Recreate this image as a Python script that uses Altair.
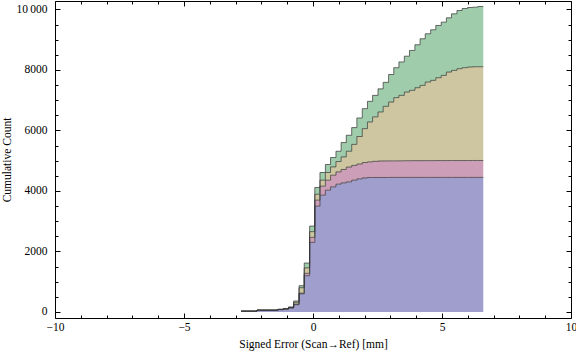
import altair as alt
import pandas as pd

# left edges of the histogram bins (last value = right edge of the final bin)
bin_edges = [-2.79, -2.58, -2.38, -2.17, -1.97, -1.77, -1.56, -1.36, -1.15, -0.95,
             -0.75, -0.54, -0.34, -0.13, 0.07, 0.27, 0.48, 0.68, 0.89, 1.09,
             1.29, 1.50, 1.70, 1.91, 2.11, 2.31, 2.52, 2.72, 2.93, 3.13,
             3.33, 3.54, 3.74, 3.95, 4.15, 4.35, 4.56, 4.76, 4.97, 5.17,
             5.37, 5.58, 5.78, 5.99, 6.19, 6.39, 6.60]

series_names = ["Set 1", "Set 2", "Set 3", "Set 4"]
series_colors = ["#9f9ecc", "#cc9eb7", "#cdc6a0", "#9fccaa"]

# cumulative counts per series, one value per bin
cum_1 = [25, 25, 25, 55, 55, 55, 55, 75, 90, 130, 240, 600, 1198, 2300,
         3498, 3861, 4026, 4136, 4224, 4268, 4301, 4356, 4400, 4430, 4445, 4445, 4445, 4445,
         4447, 4447, 4447, 4447, 4448, 4448, 4448, 4448, 4448, 4448, 4448, 4448, 4448, 4448,
         4448, 4448, 4448, 4448]
cum_2 = [2, 2, 2, 3, 3, 3, 3, 5, 8, 10, 20, 20, 79, 165,
         198, 297, 330, 385, 407, 442, 489, 489, 490, 510, 517, 535, 545, 547,
         548, 548, 550, 553, 553, 554, 554, 555, 555, 557, 557, 557, 558, 558,
         558, 559, 559, 559]
cum_3 = [2, 2, 2, 4, 4, 4, 4, 5, 8, 12, 60, 182, 180, 190,
         195, 200, 254, 275, 341, 416, 523, 695, 910, 1120, 1318, 1470, 1621, 1806,
         1945, 2090, 2164, 2270, 2326, 2412, 2489, 2597, 2653, 2739, 2816, 2926, 2980, 3036,
         3069, 3090, 3100, 3100]
cum_4 = [1, 1, 1, 4, 4, 4, 4, 5, 9, 13, 43, 66, 160, 183,
         223, 252, 264, 309, 341, 474, 528, 554, 613, 661, 683, 711, 764, 792,
         910, 990, 1104, 1185, 1319, 1419, 1540, 1596, 1672, 1727, 1760, 1793, 1870, 1924,
         1957, 1968, 1968, 1991]

x_major = [-10, -5, 0, 5, 10]
x_minor = [-9, -8, -7, -6, -4, -3, -2, -1, 1, 2, 3, 4, 6, 7, 8, 9]
y_major = [0, 2000, 4000, 6000, 8000, 10000]
y_minor = [500, 1000, 1500, 2500, 3000, 3500, 4500, 5000, 5500, 6500, 7000, 7500,
           8500, 9000, 9500]

rows = []
series_vals = [cum_1, cum_2, cum_3, cum_4]
for i, xe in enumerate(bin_edges):
    idx = min(i, len(cum_1) - 1)
    for order, (name, vals) in enumerate(zip(series_names, series_vals)):
        rows.append({"x": xe, "series": name, "order": order, "value": vals[idx]})
df = pd.DataFrame(rows)

FONT = "Liberation Serif"
xscale = alt.Scale(domain=[-10, 10], nice=False, zero=False)
yscale = alt.Scale(domain=[-200, 10280], nice=False, zero=False)


def tick_axis(orient, values, size):
    return alt.Axis(orient=orient, values=values, labels=False, domain=False,
                    ticks=True, tickSize={"expr": str(-size)}, tickColor="black",
                    tickWidth=1, title=None, grid=False, zindex=2)


stacked = alt.Chart(df).transform_stack(
    stack="value", groupby=["x"], as_=["y0", "y1"],
    sort=[alt.SortField("order", order="ascending")]
)

area = stacked.mark_area(interpolate="step-after", opacity=1).encode(
    x=alt.X("x:Q", scale=xscale,
            axis=alt.Axis(orient="bottom", values=x_major, ticks=False, domain=False,
                          format="d", labelPadding=3, labelFlush=False, labelOverlap=False,
                          labelFont=FONT, labelFontSize=11.5, labelColor="black",
                          title="Signed Error (Scan→Ref) [mm]", titleFont=FONT,
                          titleFontSize=11.5, titleFontWeight="normal", titleColor="black",
                          titlePadding=6, grid=False)),
    y=alt.Y("y1:Q", scale=yscale,
            axis=alt.Axis(orient="left", values=y_major, ticks=False, domain=False,
                          format="d", labelPadding=8, labelFlush=False, labelOverlap=False,
                          labelFont=FONT, labelFontSize=11.5, labelColor="black",
                          labelExpr="datum.value == 10000 ? '10\u2009000' : datum.label",
                          title="Cumulative Count", titleFont=FONT, titleFontSize=11.5,
                          titleFontWeight="normal", titleColor="black", titlePadding=3,
                          grid=False)),
    y2="y0:Q",
    color=alt.Color("series:N", scale=alt.Scale(domain=series_names, range=series_colors),
                    legend=None),
)

lines = stacked.mark_line(interpolate="step-after", color="#333333", strokeWidth=1,
                          opacity=0.7).encode(
    x=alt.X("x:Q", scale=xscale, axis=tick_axis("bottom", x_major, 5)),
    y=alt.Y("y1:Q", scale=yscale, axis=tick_axis("left", y_major, 5)),
    detail="series:N",
)

inv1 = stacked.mark_point(opacity=0).encode(
    x=alt.X("x:Q", scale=xscale, axis=tick_axis("bottom", x_minor, 3)),
    y=alt.Y("y1:Q", scale=yscale, axis=tick_axis("left", y_minor, 3)),
)
inv2 = stacked.mark_point(opacity=0).encode(
    x=alt.X("x:Q", scale=xscale, axis=tick_axis("top", x_major, 5)),
    y=alt.Y("y1:Q", scale=yscale, axis=tick_axis("right", y_major, 5)),
)
inv3 = stacked.mark_point(opacity=0).encode(
    x=alt.X("x:Q", scale=xscale, axis=tick_axis("top", x_minor, 3)),
    y=alt.Y("y1:Q", scale=yscale, axis=tick_axis("right", y_minor, 3)),
)

chart = alt.layer(area, lines, inv1, inv2, inv3).resolve_scale(
    x="shared", y="shared"
).resolve_axis(
    x="independent", y="independent"
).properties(
    width=516, height=317,
    padding={"left": 55, "top": 1, "right": 5, "bottom": 39},
    autosize=alt.AutoSizeParams(type="none"),
    background="white",
).configure_view(stroke="black", strokeWidth=1).configure_axis(grid=False)

chart.save("out.html", embed_options={"renderer": "svg", "actions": False})
